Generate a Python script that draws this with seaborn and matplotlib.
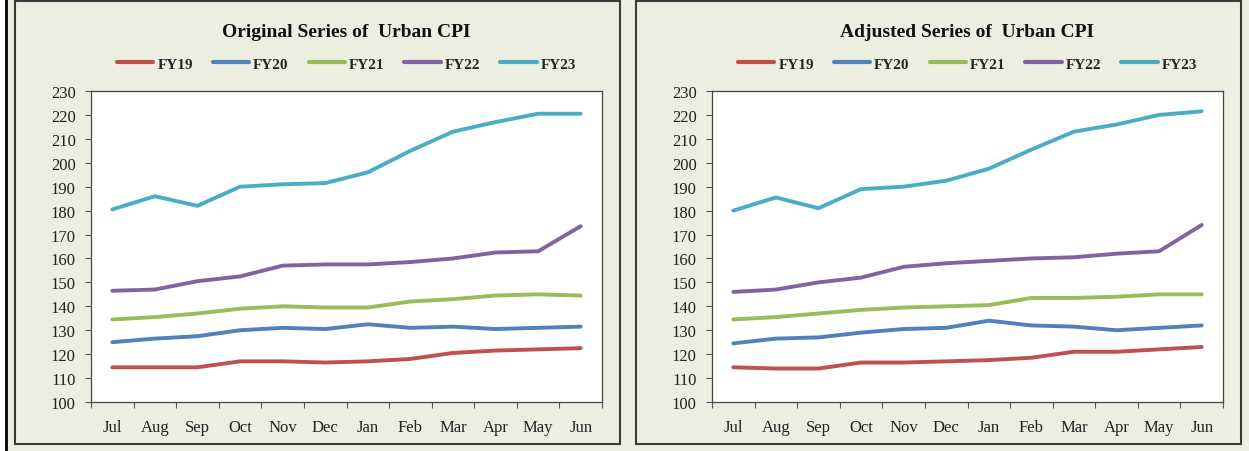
import seaborn as sns
import pandas as pd
import matplotlib.pyplot as plt
from matplotlib.patches import Rectangle
from matplotlib.lines import Line2D

months = ['Jul', 'Aug', 'Sep', 'Oct', 'Nov', 'Dec', 'Jan', 'Feb', 'Mar', 'Apr', 'May', 'Jun']
years = ['FY19', 'FY20', 'FY21', 'FY22', 'FY23']

# Original series
orig_fy19 = [114.5, 114.5, 114.5, 117, 117, 116.5, 117, 118, 120.5, 121.5, 122, 122.5]
orig_fy20 = [125, 126.5, 127.5, 130, 131, 130.5, 132.5, 131, 131.5, 130.5, 131, 131.5]
orig_fy21 = [134.5, 135.5, 137, 139, 140, 139.5, 139.5, 142, 143, 144.5, 145, 144.5]
orig_fy22 = [146.5, 147, 150.5, 152.5, 157, 157.5, 157.5, 158.5, 160, 162.5, 163, 173.5]
orig_fy23 = [180.5, 186, 182, 190, 191, 191.5, 196, 205, 213, 217, 220.5, 220.5]

# Adjusted series
adj_fy19 = [114.5, 114, 114, 116.5, 116.5, 117, 117.5, 118.5, 121, 121, 122, 123]
adj_fy20 = [124.5, 126.5, 127, 129, 130.5, 131, 134, 132, 131.5, 130, 131, 132]
adj_fy21 = [134.5, 135.5, 137, 138.5, 139.5, 140, 140.5, 143.5, 143.5, 144, 145, 145]
adj_fy22 = [146, 147, 150, 152, 156.5, 158, 159, 160, 160.5, 162, 163, 174]
adj_fy23 = [180, 185.5, 181, 189, 190, 192.5, 197.5, 205.5, 213, 216, 220, 221.5]

colors = ['#C0504D', '#4F81BD', '#9BBB59', '#8064A2', '#4BACC6']
bg = '#ECEFE0'


def to_long(series):
    rows = []
    for fy, vals in zip(years, series):
        for i, v in enumerate(vals):
            rows.append({'pos': i, 'month': months[i], 'FY': fy, 'cpi': v})
    return pd.DataFrame(rows)


orig_df = to_long([orig_fy19, orig_fy20, orig_fy21, orig_fy22, orig_fy23])
adj_df = to_long([adj_fy19, adj_fy20, adj_fy21, adj_fy22, adj_fy23])

sns.set_style('white')
plt.rcParams['font.family'] = ['Liberation Serif', 'DejaVu Serif']

fig = plt.figure(figsize=(12.49, 4.52), dpi=100, facecolor=bg)
W, H = 1249, 452

# outer frame line and panel borders
fig.patches.append(Rectangle((0, 0), 5 / W, 1, transform=fig.transFigure,
                             facecolor='white', edgecolor='none', zorder=0))
fig.lines.append(Line2D([6 / W, 6 / W], [0, 1], transform=fig.transFigure,
                        color='black', lw=2))
for x0, x1 in [(15, 620), (636, 1241)]:
    fig.patches.append(Rectangle((x0 / W, (H - 445) / H), (x1 - x0) / W, 443 / H,
                                 transform=fig.transFigure, facecolor='none',
                                 edgecolor='#3a3a3a', lw=1.5))

panels = [
    (orig_df, 'Original Series of  Urban CPI', 91),
    (adj_df, 'Adjusted Series of  Urban CPI', 712),
]

for df, title, left in panels:
    ax = fig.add_axes([left / W, (H - 403) / H, 511 / W, 311 / H])
    ax.set_facecolor('white')
    sns.lineplot(data=df, x='pos', y='cpi', hue='FY', palette=colors,
                 linewidth=2.8, ax=ax, legend=True)
    ax.set_xlim(-0.5, 11.5)
    ax.set_ylim(100, 230)
    ax.set_yticks(range(100, 231, 10))
    ax.set_xticks(range(12))
    ax.set_xticklabels(months)
    ax.set_xticks([i - 0.5 for i in range(13)], minor=True)
    ax.tick_params(axis='x', which='major', length=0, labelsize=12, pad=12)
    ax.tick_params(axis='x', which='minor', length=4, width=0.8, color='#555555',
                   direction='out', bottom=True)
    ax.tick_params(axis='y', length=4, width=0.8, color='#555555', direction='out',
                   left=True, labelsize=12, pad=7)
    for lab in ax.get_xticklabels() + ax.get_yticklabels():
        lab.set_color('#222222')
    for s in ax.spines.values():
        s.set_color('#444444')
        s.set_linewidth(0.9)
    ax.set_xlabel('')
    ax.set_ylabel('')
    ax.text(0.5, 1.19, title, transform=ax.transAxes, ha='center', va='center',
            fontsize=14, fontweight='bold', color='#111111')
    leg = ax.legend(loc='center', bbox_to_anchor=(0.5, 1.087), ncol=5, frameon=False,
                    handlelength=2.4, handletextpad=0.25, columnspacing=1.3,
                    prop={'size': 11, 'weight': 'bold'})
    for line in leg.get_lines():
        line.set_linewidth(3)

fig.savefig('out.png', dpi=100, facecolor=bg)
